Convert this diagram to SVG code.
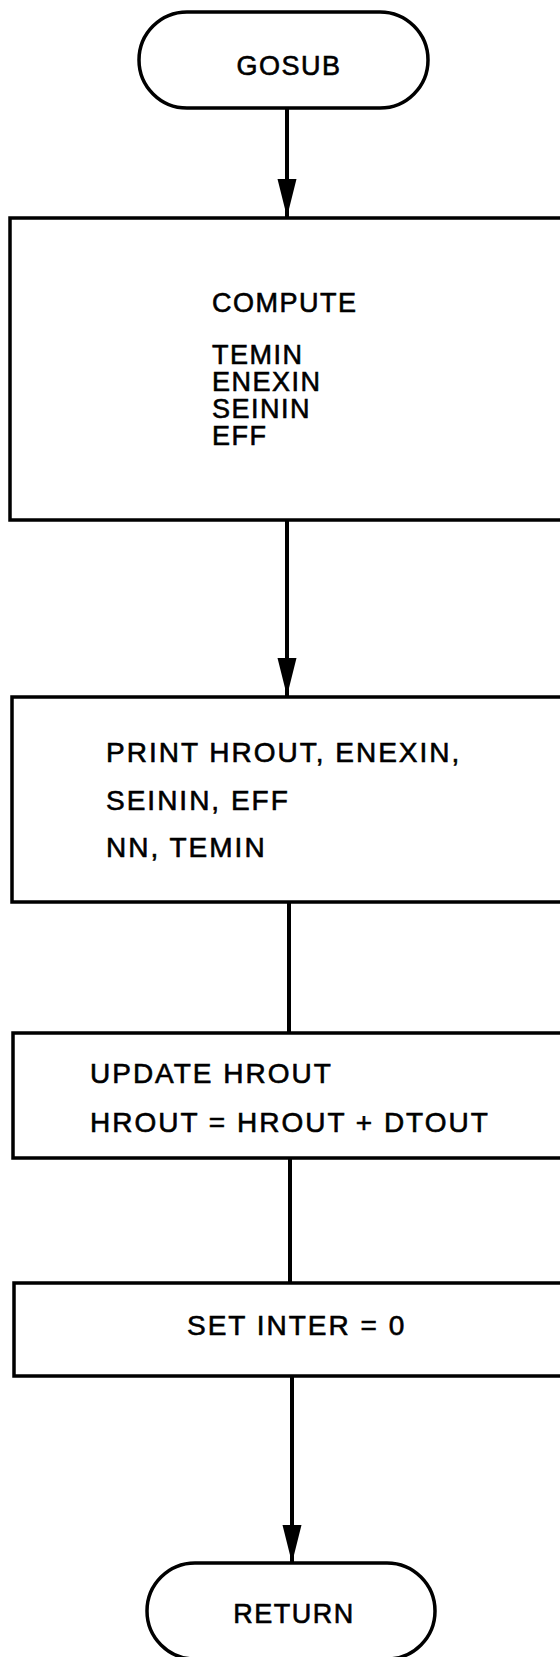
<svg xmlns="http://www.w3.org/2000/svg" width="560" height="1657" viewBox="0 0 560 1657">
  <style>
    .shape { fill: #ffffff; stroke: #000000; stroke-width: 3.5; }
    .flow { stroke: #000000; stroke-width: 4; fill: none; }
    .label { font-family: "Liberation Sans", Arial, sans-serif; font-size: 27px; fill: #000000; stroke: #000000; stroke-width: 0.6; letter-spacing: 1.5px; }
    .wide { font-size: 28px; letter-spacing: 2px; }
  </style>
  <defs>
    <marker id="arrowhead" markerUnits="userSpaceOnUse" markerWidth="40" markerHeight="20" refX="38" refY="9.5" orient="auto">
      <path d="M0,0 L38,9.5 L0,19 Z" fill="#000000"/>
    </marker>
  </defs>
  <rect width="560" height="1657" fill="#ffffff"/>

  <!-- connectors -->
  <g id="connectors">
    <line class="flow" x1="287" y1="108" x2="287" y2="217" marker-end="url(#arrowhead)"/>
    <line class="flow" x1="287" y1="520" x2="287" y2="696" marker-end="url(#arrowhead)"/>
    <line class="flow" x1="289" y1="902" x2="289" y2="1033"/>
    <line class="flow" x1="290" y1="1158" x2="290" y2="1283"/>
    <line class="flow" x1="292" y1="1376" x2="292" y2="1563" marker-end="url(#arrowhead)"/>
  </g>

  <!-- start terminal -->
  <g id="gosub">
    <rect class="shape" x="139" y="12" width="289" height="96" rx="48" ry="48"/>
    <text class="label" x="289" y="75" text-anchor="middle">GOSUB</text>
  </g>

  <!-- compute block -->
  <g id="compute">
    <rect class="shape" x="10" y="218" width="570" height="302"/>
    <text class="label" x="212" y="312">COMPUTE</text>
    <text class="label" x="212" y="364">TEMIN</text>
    <text class="label" x="212" y="391">ENEXIN</text>
    <text class="label" x="212" y="418">SEININ</text>
    <text class="label" x="212" y="445">EFF</text>
  </g>

  <!-- print block -->
  <g id="print">
    <rect class="shape" x="12" y="697" width="568" height="205"/>
    <text class="label wide" x="106" y="762">PRINT HROUT, ENEXIN,</text>
    <text class="label wide" x="106" y="810">SEININ, EFF</text>
    <text class="label wide" x="106" y="857">NN, TEMIN</text>
  </g>

  <!-- update block -->
  <g id="update">
    <rect class="shape" x="13" y="1033" width="567" height="125"/>
    <text class="label wide" x="90" y="1083">UPDATE HROUT</text>
    <text class="label wide" x="90" y="1132">HROUT = HROUT + DTOUT</text>
  </g>

  <!-- reset block -->
  <g id="set-inter">
    <rect class="shape" x="14" y="1283" width="566" height="93"/>
    <text class="label wide" x="187" y="1335">SET INTER = 0</text>
  </g>

  <!-- end terminal -->
  <g id="return">
    <rect class="shape" x="147" y="1563" width="288" height="96" rx="48" ry="48"/>
    <text class="label" x="294" y="1623" text-anchor="middle">RETURN</text>
  </g>
</svg>
